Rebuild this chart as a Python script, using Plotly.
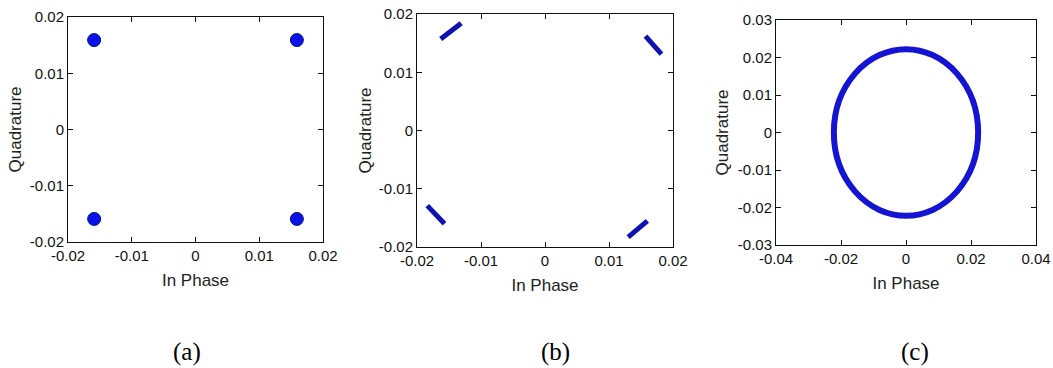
import plotly.graph_objects as go

# ---- data ----
# (a) constellation points
a_i = [-0.0159, 0.0159, -0.0159, 0.0159]
a_q = [0.0159, 0.0159, -0.0159, -0.0159]

# (b) rotated clusters (start/end of each short arc)
b_tl_i = [-0.0163, -0.0131]
b_tl_q = [0.0157, 0.0184]
b_tr_i = [0.0157, 0.0182]
b_tr_q = [0.0162, 0.0131]
b_bl_i = [-0.0184, -0.0157]
b_bl_q = [-0.0129, -0.0160]
b_br_i = [0.0130, 0.0160]
b_br_q = [-0.0183, -0.0155]

# (c) ring of points
c_center = (0.0, 0.0)
c_radius = 0.0222

# axis ticks
ab_ticks = [-0.02, -0.01, 0, 0.01, 0.02]
ab_ticktext = ["-0.02", "-0.01", "0", "0.01", "0.02"]
c_xticks = [-0.04, -0.02, 0, 0.02, 0.04]
c_xticktext = ["-0.04", "-0.02", "0", "0.02", "0.04"]
c_yticks = [-0.03, -0.02, -0.01, 0, 0.01, 0.02, 0.03]
c_yticktext = ["-0.03", "-0.02", "-0.01", "0", "0.01", "0.02", "0.03"]

panel_labels = ["(a)", "(b)", "(c)"]

W, H = 1053, 368
BLUE = "#0a12e6"
NAVY = "#0f12b0"

fig = go.Figure()

fig.add_trace(go.Scatter(x=a_i, y=a_q, mode="markers", xaxis="x", yaxis="y",
                         marker=dict(size=13, color=BLUE,
                                     line=dict(width=1, color="#06108a")),
                         showlegend=False))
for xs, ys in [(b_tl_i, b_tl_q), (b_tr_i, b_tr_q), (b_bl_i, b_bl_q), (b_br_i, b_br_q)]:
    fig.add_trace(go.Scatter(x=xs, y=ys, mode="lines", xaxis="x2", yaxis="y2",
                             line=dict(width=5, color=NAVY), showlegend=False))
# invisible trace so axes 3 render
fig.add_trace(go.Scatter(x=[c_center[0]], y=[c_center[1]], mode="markers",
                         xaxis="x3", yaxis="y3", marker=dict(size=1, opacity=0),
                         showlegend=False, hoverinfo="skip"))

fig.add_shape(type="circle", xref="x3", yref="y3",
              x0=c_center[0] - c_radius, x1=c_center[0] + c_radius,
              y0=c_center[1] - c_radius, y1=c_center[1] + c_radius,
              line=dict(color="#1414d2", width=6))

def xd(px0, px1):
    return [px0 / W, px1 / W]

def yd(top, bottom):
    return [(H - bottom) / H, (H - top) / H]

tickfont = dict(family="Liberation Sans, Arial", size=15, color="#111")
titlefont = dict(family="Liberation Sans, Arial", size=17, color="#222")

def axis(domain, anchor, rng, tv, tt, title, standoff):
    return dict(domain=domain, anchor=anchor, range=rng, tickvals=tv, ticktext=tt,
                ticks="inside", ticklen=5, tickcolor="#111", showline=True,
                linecolor="#111", linewidth=1, mirror="ticks", showgrid=False,
                zeroline=False, tickfont=tickfont, automargin=False,
                ticklabeloverflow="allow",
                title=dict(text=title, font=titlefont, standoff=standoff))

fig.update_layout(
    width=W, height=H, margin=dict(l=0, r=0, t=0, b=0, autoexpand=False),
    paper_bgcolor="white", plot_bgcolor="white",
    xaxis=axis(xd(68, 323), "y", [-0.02, 0.02], ab_ticks, ab_ticktext, "In Phase", 11),
    yaxis=axis(yd(17, 242), "x", [-0.02, 0.02], ab_ticks, ab_ticktext, "Quadrature", 3),
    xaxis2=axis(xd(417, 673), "y2", [-0.02, 0.02], ab_ticks, ab_ticktext, "In Phase", 11),
    yaxis2=axis(yd(14, 247), "x2", [-0.02, 0.02], ab_ticks, ab_ticktext, "Quadrature", 2),
    xaxis3=axis(xd(776, 1036), "y3", [-0.04, 0.04], c_xticks, c_xticktext, "In Phase", 11),
    yaxis3=axis(yd(20, 245), "x3", [-0.03, 0.03], c_yticks, c_yticktext, "Quadrature", 4),
)

for lbl, cx in zip(panel_labels, [187, 555, 915]):
    fig.add_annotation(text=lbl, xref="paper", yref="paper", x=cx / W, y=(H - 352) / H,
                       showarrow=False, xanchor="center", yanchor="middle",
                       font=dict(family="Liberation Serif, Times New Roman", size=25, color="#000"))

fig.write_html("out.html")
